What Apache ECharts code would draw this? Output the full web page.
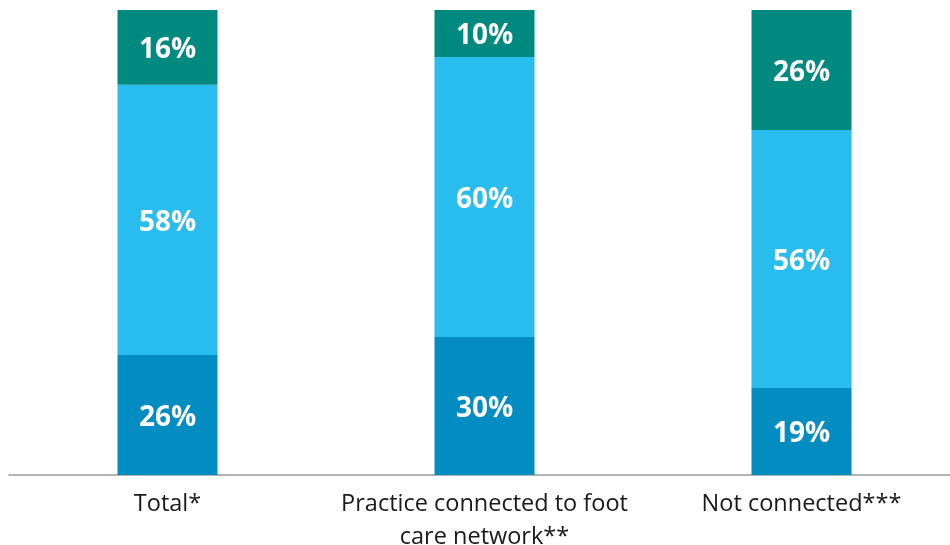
<!DOCTYPE html>
<html><head><meta charset="utf-8">
<script src="https://cdn.jsdelivr.net/npm/echarts@6/dist/echarts.min.js"></script>
<style>html,body{margin:0;padding:0;background:#fff}#c{width:950px;height:545px}</style>
</head><body><div id="c"></div>
<script>
const categories = ['Total*', 'Practice connected to foot\ncare network**', 'Not connected***'];
const bottomValues = [25.8, 29.7, 18.7];
const middleValues = [58.1, 60.2, 55.5];
const topValues = [16.1, 10.1, 25.8];

const chart = echarts.init(document.getElementById('c'));
const lbl = {
  show: true, position: 'inside', color: '#fff', fontWeight: 'bold',
  fontSize: 28, fontFamily: 'Open Sans', offset: [0, 3],
  formatter: p => Math.round(p.value) + '%'
};
function s(name, data, color) {
  return { name, type: 'bar', stack: 'a', data, barWidth: 100,
    itemStyle: { color }, label: lbl, emphasis: { disabled: true } };
}
chart.setOption({
  animation: false,
  grid: { left: 9, right: -10, top: 10, bottom: 70, containLabel: false, outerBoundsMode: 'none' },
  xAxis: {
    type: 'category', data: categories,
    axisLine: { lineStyle: { color: '#9a9a9a', width: 1.5 } },
    axisTick: { show: false },
    axisLabel: { color: '#1a1a1a', fontSize: 23.5, fontFamily: 'Open Sans', margin: 13, lineHeight: 33, interval: 0 }
  },
  yAxis: { type: 'value', min: 0, max: 100, show: false, splitLine: { show: false } },
  series: [
    s('bottom', bottomValues, '#018CC2'),
    s('middle', middleValues, '#29BDEF'),
    s('top', topValues, '#00897F')
  ]
});
</script></body></html>
